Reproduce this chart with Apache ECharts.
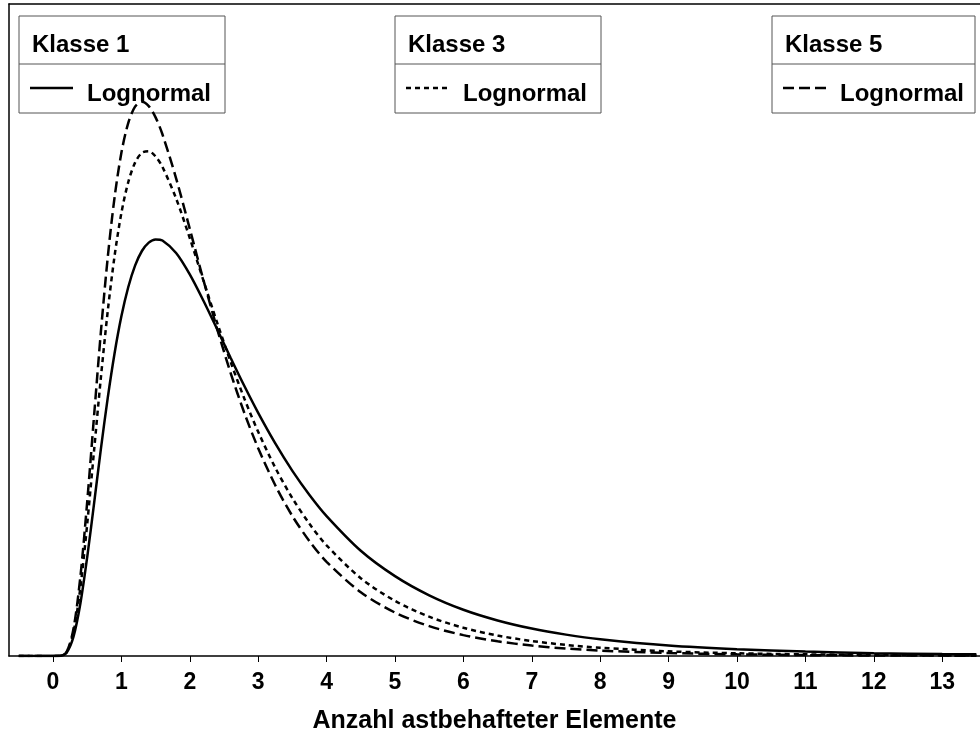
<!DOCTYPE html>
<html>
<head>
<meta charset="utf-8">
<script src="https://cdn.jsdelivr.net/npm/echarts@6/dist/echarts.min.js"></script>
<style>
  html, body { margin: 0; padding: 0; background: #fff; }
  #chart { width: 980px; height: 739px; }
</style>
</head>
<body>
<div id="chart"></div>
<script>
// Anzahl astbehafteter Elemente (x positions where each curve is sampled)
const xValues = [-0.5, 0, 0.1, 0.2, 0.3, 0.4, 0.5, 0.6, 0.7, 0.8, 0.9, 1.0, 1.1, 1.2, 1.3, 1.4, 1.5, 1.6, 1.8, 2.0,
  2.2, 2.4, 2.6, 2.8, 3.0, 3.25, 3.5, 3.75, 4.0, 4.5, 5.0, 5.5, 6.0, 6.5, 7.0, 7.5, 8.0, 9.0, 10, 11, 12, 13, 13.5];

// Lognormal density, Klasse 1 (solid)
const klasse1 = [0, 0, 0.0001, 0.0027, 0.0150, 0.0405, 0.0766, 0.1181, 0.1605, 0.2001, 0.2348, 0.2636, 0.2862, 0.3030,
  0.3143, 0.3208, 0.3233, 0.3224, 0.3128, 0.2962, 0.2757, 0.2536, 0.2311, 0.2093, 0.1887, 0.1650, 0.1437, 0.1250,
  0.1086, 0.0817, 0.0620, 0.0471, 0.0359, 0.0276, 0.0213, 0.0166, 0.0130, 0.0081, 0.0052, 0.0034, 0.0022, 0.0015, 0.0013];

// Lognormal density, Klasse 3 (short dashes)
const klasse3 = [0, 0, 0.0001, 0.0029, 0.0186, 0.0529, 0.1023, 0.1591, 0.2159, 0.2673, 0.3103, 0.3438, 0.3677, 0.3829,
  0.3905, 0.3917, 0.3877, 0.3796, 0.3551, 0.3243, 0.2913, 0.2587, 0.2278, 0.1995, 0.1740, 0.1461, 0.1225, 0.1026,
  0.0859, 0.0604, 0.0428, 0.0305, 0.0219, 0.0159, 0.0116, 0.0086, 0.0064, 0.0036, 0.0021, 0.0013, 0.0008, 0.0005, 0.0004];

// Lognormal density, Klasse 5 (long dashes)
const klasse5 = [0, 0, 0.0000, 0.0032, 0.0211, 0.0613, 0.1195, 0.1859, 0.2513, 0.3090, 0.3558, 0.3905, 0.4136, 0.4263,
  0.4301, 0.4268, 0.4180, 0.4049, 0.3707, 0.3315, 0.2917, 0.2539, 0.2192, 0.1883, 0.1613, 0.1325, 0.1086, 0.0891,
  0.0731, 0.0495, 0.0337, 0.0232, 0.0162, 0.0114, 0.0081, 0.0058, 0.0042, 0.0023, 0.0013, 0.0007, 0.0004, 0.0003, 0.0002];

// Labelled ticks on the x axis
const tickValues = [0, 1, 2, 3, 4, 5, 6, 7, 8, 9, 10, 11, 12, 13];

const classNames = ['Klasse 1', 'Klasse 3', 'Klasse 5'];
const distName = 'Lognormal';

const FONT = '"Liberation Sans", Arial, Helvetica, sans-serif';
const dashShort = [5, 4];
const dashLong = [11, 5];
const LW = 2.5;

function pairs(ys) { return xValues.map((x, i) => [x, ys[i]]); }

const chart = echarts.init(document.getElementById('chart'), null, { renderer: 'canvas' });

// Boxed keys along the top of the plot (drawn beneath the curves)
function keyBox(left, width, title, dash) {
  const top = 16, h = 97, mid = 64;
  return [
    { type: 'rect', shape: { x: left, y: top, width: width, height: h },
      style: { fill: '#fff', stroke: '#555', lineWidth: 1 }, z: 1 },
    { type: 'line', shape: { x1: left, y1: mid, x2: left + width, y2: mid },
      style: { stroke: '#555', lineWidth: 1 }, z: 1 },
    { type: 'text', x: left + 13, y: 45,
      style: { text: title, font: 'bold 24px ' + FONT, fill: '#000', verticalAlign: 'middle' }, z: 1 },
    { type: 'line', shape: { x1: left + 11, y1: 88, x2: left + 54, y2: 88 },
      style: { stroke: '#000', lineWidth: LW, lineDash: dash }, z: 1 },
    { type: 'text', x: left + 68, y: 94,
      style: { text: distName, font: 'bold 24px ' + FONT, fill: '#000', verticalAlign: 'middle' }, z: 1 }
  ];
}

const pxPerUnit = 68.4;
const xMin = -0.643;
const xMax = xMin + 971 / pxPerUnit;

const option = {
  animation: false,
  backgroundColor: '#fff',
  grid: { left: 9, top: 4, right: 0, height: 652, show: false },
  xAxis: [
    {
      type: 'value',
      min: xMin,
      max: xMax,
      name: 'Anzahl astbehafteter Elemente',
      nameLocation: 'middle',
      nameGap: 53,
      nameTextStyle: { fontFamily: FONT, fontWeight: 'bold', fontSize: 25, color: '#000' },
      axisLine: { show: true, onZero: false, lineStyle: { color: '#000', width: 1.5 } },
      axisTick: { show: true, length: 6, inside: false, lineStyle: { color: '#000', width: 1 },
        customValues: tickValues },
      axisLabel: { fontFamily: FONT, fontWeight: 'bold', fontSize: 23, color: '#000', margin: 15,
        customValues: tickValues },
      splitLine: { show: false }
    },
    {
      // frame line along the top edge
      type: 'value', position: 'top', min: xMin, max: xMax,
      axisLine: { show: true, onZero: false, lineStyle: { color: '#000', width: 1.5 } },
      axisTick: { show: false }, axisLabel: { show: false }, splitLine: { show: false }
    }
  ],
  yAxis: {
    type: 'value',
    min: 0,
    max: 0.506,
    position: 'left',
    axisLine: { show: true, onZero: false, lineStyle: { color: '#000', width: 1.5 } },
    axisTick: { show: false },
    axisLabel: { show: false },
    splitLine: { show: false }
  },
  series: [
    { name: classNames[0], type: 'line', data: pairs(klasse1), showSymbol: false, smooth: 0.3,
      lineStyle: { color: '#000', width: LW, type: 'solid' }, z: 3 },
    { name: classNames[1], type: 'line', data: pairs(klasse3), showSymbol: false, smooth: 0.3,
      lineStyle: { color: '#000', width: LW, type: dashShort }, z: 4 },
    { name: classNames[2], type: 'line', data: pairs(klasse5), showSymbol: false, smooth: 0.3,
      lineStyle: { color: '#000', width: LW, type: dashLong }, z: 5 }
  ],
  graphic: { z: 1, elements: [].concat(
    keyBox(19, 206, classNames[0], null),
    keyBox(395, 206, classNames[1], dashShort),
    keyBox(772, 203, classNames[2], dashLong)
  ) }
};

chart.setOption(option);
</script>
</body>
</html>
